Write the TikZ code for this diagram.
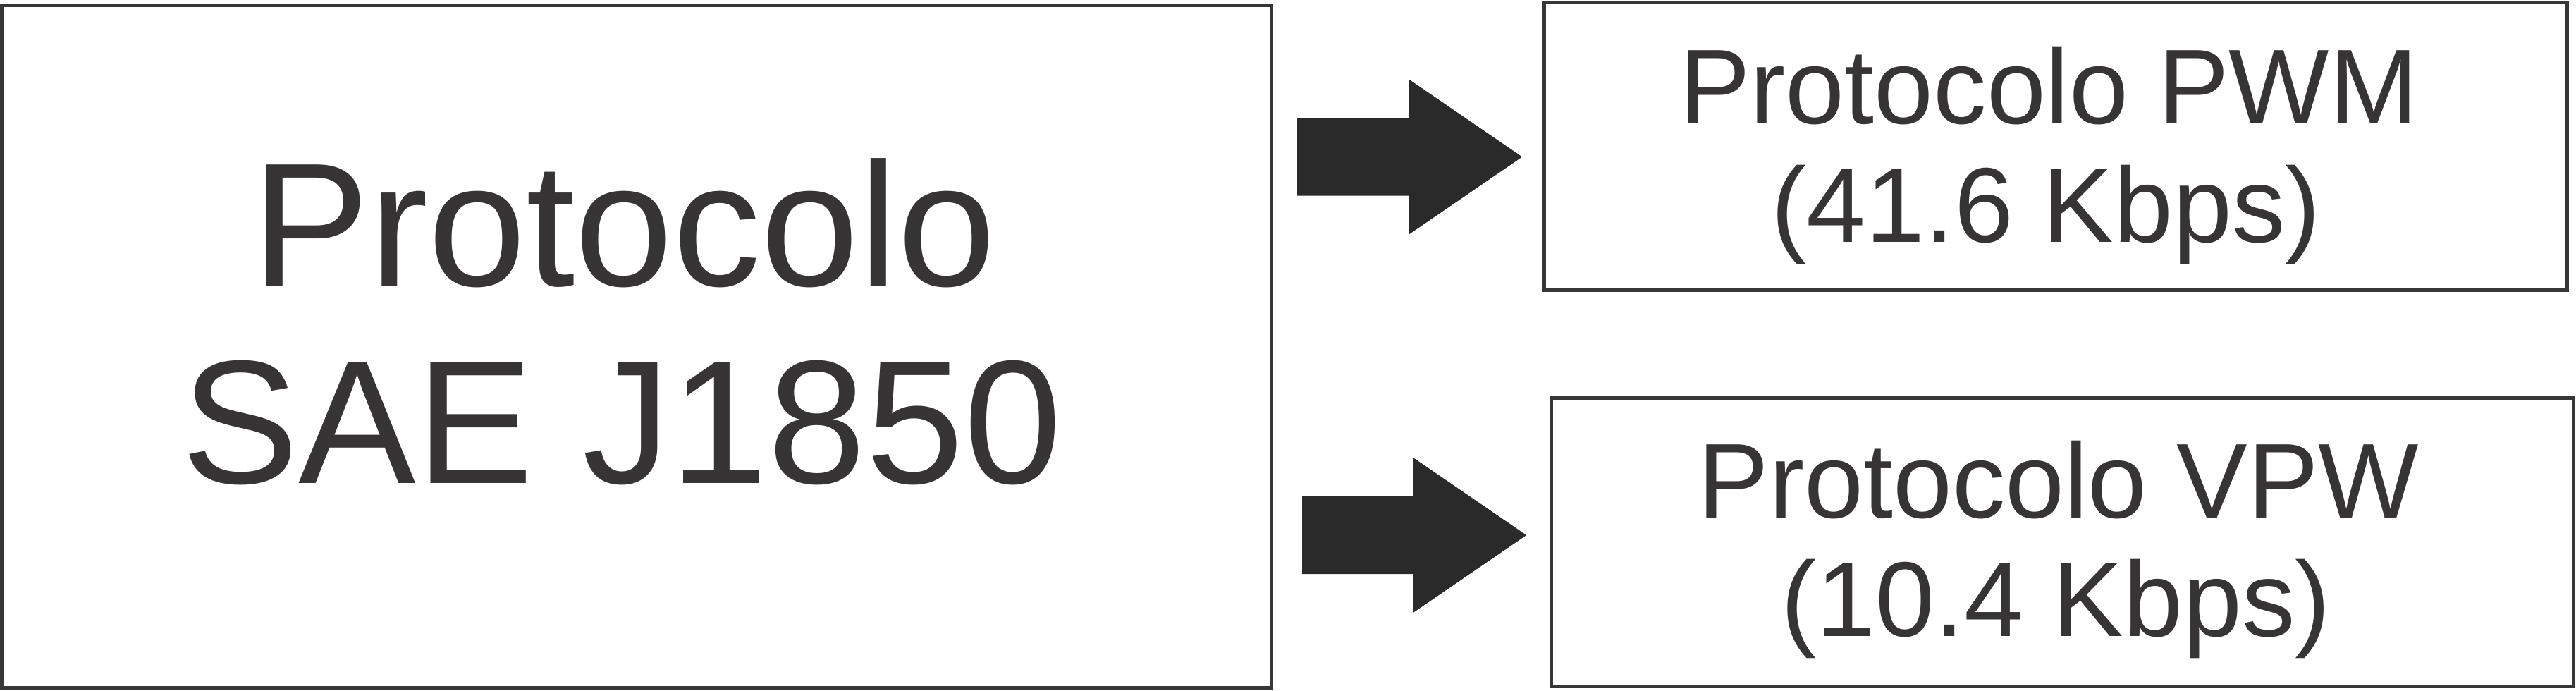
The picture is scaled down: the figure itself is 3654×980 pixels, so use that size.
\documentclass[tikz,border=0pt]{standalone}
\usepackage{fontspec}
\setmainfont{Liberation Sans}
\usetikzlibrary{shapes.arrows}
\definecolor{jline}{HTML}{383638}
\definecolor{jtext}{HTML}{363435}
\definecolor{jarrow}{HTML}{2A2A2A}

\begin{document}
\begin{tikzpicture}[x=0.01cm, y=-0.01cm,
  protobox/.style={rectangle, draw=jline, line width=0.05cm, inner sep=0pt},
  bigtext/.style={font=\fontsize{71pt}{80pt}\selectfont, text=jtext,
                  anchor=base, inner sep=0pt},
  smalltext/.style={font=\fontsize{42.9pt}{48pt}\selectfont, text=jtext,
                    anchor=base, inner sep=0pt},
  blockarrow/.style={single arrow, fill=jarrow, draw=none, inner sep=0pt,
                     outer sep=0pt, text height=1.09cm, text depth=0pt,
                     minimum height=3.19cm,
                     single arrow head extend=0.55cm,
                     single arrow tip angle=68.8, anchor=tail}]

\useasboundingbox (0,0) rectangle (3654,980);

% main protocol
\node[protobox, minimum width=18cm, minimum height=9.67cm]
  (sae) at (903,491.5) {};
\node[bigtext] (sae1) at (885,406) {Protocolo};
\node[bigtext] (sae2) at (882,686) {SAE J1850};

% PWM variant
\node[protobox, minimum width=14.5cm, minimum height=4.075cm]
  (pwm) at (2916,207.25) {};
\node[smalltext] (pwm1) at (2906,175.7) {Protocolo PWM};
\node[smalltext] (pwm2) at (2902,343.7) {(41.6 Kbps)};

% VPW variant
\node[protobox, minimum width=14.49cm, minimum height=4.08cm]
  (vpw) at (2925.5,769) {};
\node[smalltext] (vpw1) at (2920,734.7) {Protocolo VPW};
\node[smalltext] (vpw2) at (2916,902.7) {(10.4 Kbps)};

% block arrows
\node[blockarrow] (toPWM) at (1840,222.5) {};
\node[blockarrow, minimum height=3.18cm] (toVPW) at (1847,759) {};
\end{tikzpicture}
\end{document}
